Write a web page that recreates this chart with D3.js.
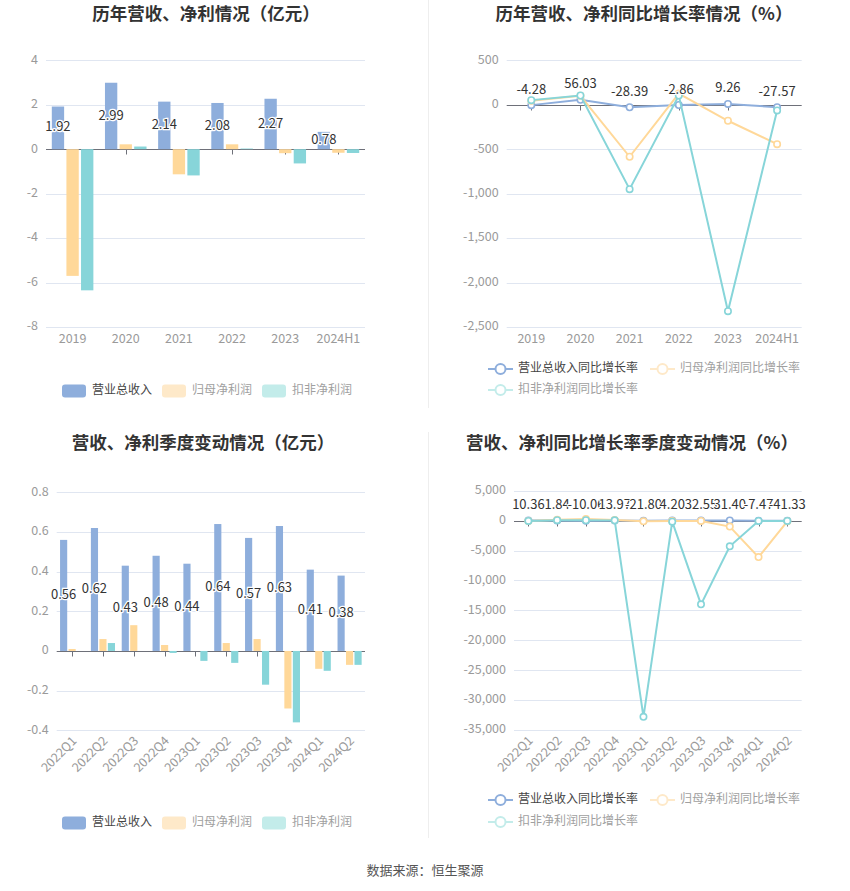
<!DOCTYPE html>
<html><head><meta charset="utf-8">
<script src="https://cdn.jsdelivr.net/npm/d3@7"></script>
<style>
body{margin:0;background:#fff}
svg{display:block;font-family:"Noto Sans CJK SC","Noto Sans",sans-serif}
</style>
</head><body>
<svg id="c" width="850" height="891"></svg>
<script>
// ---------- data ----------
const years = ["2019","2020","2021","2022","2023","2024H1"];
const annualRevenue = [1.92, 2.99, 2.14, 2.08, 2.27, 0.78];
const annualNetProfit = [-5.70, 0.22, -1.13, 0.22, -0.18, -0.16];
const annualDeducted = [-6.35, 0.12, -1.18, 0.03, -0.64, -0.17];

const annualRevenueGrowth = [-4.28, 56.03, -28.39, -2.86, 9.26, -27.57];
const annualNetProfitGrowth = [46, 100, -585, 126, -180, -443];
const annualDeductedGrowth = [52, 104, -950, 104, -2322, -64];

const quarters = ["2022Q1","2022Q2","2022Q3","2022Q4","2023Q1","2023Q2","2023Q3","2023Q4","2024Q1","2024Q2"];
const quarterRevenue = [0.56, 0.62, 0.43, 0.48, 0.44, 0.64, 0.57, 0.63, 0.41, 0.38];
const quarterNetProfit = [0.01, 0.06, 0.13, 0.03, 0.00, 0.04, 0.06, -0.29, -0.09, -0.07];
const quarterDeducted = [0.00, 0.04, 0.00, -0.01, -0.05, -0.06, -0.17, -0.36, -0.10, -0.07];

const quarterRevenueGrowth = [10.36, 1.84, -10.06, 13.97, -21.80, 4.20, 32.55, 31.40, -7.47, -41.33];
const quarterNetProfitGrowth = [-60, 150, 280, 90, -120, -50, -60, -1000, -6100, -120];
const quarterDeductedGrowth = [-60, 80, 60, 40, -32800, -170, -14000, -4300, -60, -50];

const annualYTicks = [-8, -6, -4, -2, 0, 2, 4];
const annualGrowthYTicks = [-2500, -2000, -1500, -1000, -500, 0, 500];
const quarterYTicks = [-0.4, -0.2, 0, 0.2, 0.4, 0.6, 0.8];
const quarterGrowthYTicks = [-35000, -30000, -25000, -20000, -15000, -10000, -5000, 0, 5000];

const barSeriesNames = ["营业总收入", "归母净利润", "扣非净利润"];
const lineSeriesNames = ["营业总收入同比增长率", "归母净利润同比增长率", "扣非净利润同比增长率"];
const titles = ["历年营收、净利情况（亿元）", "历年营收、净利同比增长率情况（%）",
                "营收、净利季度变动情况（亿元）", "营收、净利同比增长率季度变动情况（%）"];
const sourceText = "数据来源：恒生聚源";

// ---------- style ----------
const COLORS = ["#8eaedc", "#ffd899", "#87d5d9"];
const LEGEND_COLORS = ["#8eaedc", "#fee9c9", "#c3ecea"];
const svg = d3.select("#c");
const fmt = v => d3.format(",")(v).replace("\u2212", "-");

function frame(g, x, y, ticks, tickFmt, cats, rotate) {
  const [x0, x1] = x.range();
  g.selectAll(".grid").data(ticks).join("line")
    .attr("x1", x0).attr("x2", x1)
    .attr("y1", d => Math.round(y(d)) + 0.5).attr("y2", d => Math.round(y(d)) + 0.5)
    .attr("stroke", d => d === 0 ? "#6e7079" : "#e0e6f1").attr("stroke-width", 1);
  g.selectAll(".yl").data(ticks).join("text")
    .attr("x", x0 - 8).attr("y", d => y(d)).attr("text-anchor", "end")
    .attr("dominant-baseline", "middle").attr("font-size", 12.5).attr("fill", "#9a9a9a")
    .text(tickFmt);
  const y0 = Math.round(y(0)) + 0.5;
  g.selectAll(".tk").data(cats).join("line")
    .attr("x1", d => Math.round(x(d) + x.bandwidth() / 2) + 0.5)
    .attr("x2", d => Math.round(x(d) + x.bandwidth() / 2) + 0.5)
    .attr("y1", y0).attr("y2", y0 + 5).attr("stroke", "#6e7079");
  const bottom = y.range()[0];
  const xl = g.selectAll(".xl").data(cats).join("text")
    .attr("font-size", 12.5).attr("fill", "#9a9a9a").text(d => d);
  if (rotate) {
    xl.attr("text-anchor", "end").attr("dominant-baseline", "middle")
      .attr("transform", d => `translate(${x(d) + x.bandwidth() / 2 + 3},${bottom + 9}) rotate(-45)`);
  } else {
    xl.attr("text-anchor", "middle").attr("dominant-baseline", "middle")
      .attr("x", d => x(d) + x.bandwidth() / 2).attr("y", bottom + 13);
  }
}

function barChart(cfg) {
  const g = svg.append("g");
  const x = d3.scaleBand().domain(cfg.cats).range(cfg.xr);
  const y = d3.scaleLinear().domain(cfg.yd).range(cfg.yr);
  frame(g, x, y, cfg.ticks, fmt, cfg.cats, cfg.rotate);
  const bw = x.bandwidth() * 0.232, step = x.bandwidth() * 0.275;
  cfg.series.forEach((vals, si) => {
    g.append("g").selectAll("rect").data(vals.map((v, i) => ({v, c: cfg.cats[i]}))).join("rect")
      .attr("x", d => x(d.c) + x.bandwidth() / 2 + (si - 1) * step - bw / 2)
      .attr("width", bw)
      .attr("y", d => y(Math.max(0, d.v)))
      .attr("height", d => Math.abs(y(d.v) - y(0)))
      .attr("fill", COLORS[si]);
  });
  g.append("g").selectAll("text").data(cfg.series[0].map((v, i) => ({v, c: cfg.cats[i]}))).join("text")
    .attr("x", d => x(d.c) + x.bandwidth() / 2 - step)
    .attr("y", d => (y(d.v) + y(0)) / 2)
    .attr("text-anchor", "middle").attr("dominant-baseline", "middle")
    .attr("font-size", 13).attr("fill", "#333")
    .attr("stroke", "#fff").attr("stroke-width", 2.5).attr("paint-order", "stroke")
    .text(d => d.v.toFixed(2));
}

function lineChart(cfg) {
  const g = svg.append("g");
  const x = d3.scaleBand().domain(cfg.cats).range(cfg.xr);
  const y = d3.scaleLinear().domain(cfg.yd).range(cfg.yr);
  frame(g, x, y, cfg.ticks, fmt, cfg.cats, cfg.rotate);
  const cx = c => x(c) + x.bandwidth() / 2;
  cfg.series.forEach((vals, si) => {
    const pts = vals.map((v, i) => ({v, c: cfg.cats[i]}));
    g.append("path").datum(pts)
      .attr("d", d3.line().x(d => cx(d.c)).y(d => y(d.v)))
      .attr("fill", "none").attr("stroke", COLORS[si]).attr("stroke-width", 2);
    g.append("g").selectAll("circle").data(pts).join("circle")
      .attr("cx", d => cx(d.c)).attr("cy", d => y(d.v)).attr("r", 3.2)
      .attr("fill", "#fff").attr("stroke", COLORS[si]).attr("stroke-width", 1.6);
  });
  g.append("g").selectAll("text").data(cfg.series[0].map((v, i) => ({v, c: cfg.cats[i]}))).join("text")
    .attr("x", d => cx(d.c)).attr("y", d => y(d.v) - 15)
    .attr("text-anchor", "middle").attr("dominant-baseline", "middle")
    .attr("font-size", 13).attr("fill", "#333")
    .attr("stroke", "#fff").attr("stroke-width", 2).attr("paint-order", "stroke")
    .text(d => d.v.toFixed(2));
}

function barLegend(y) {
  const xs = [62, 162, 262];
  barSeriesNames.forEach((n, i) => {
    svg.append("rect").attr("x", xs[i]).attr("y", y - 6.5).attr("width", 24).attr("height", 13)
      .attr("rx", 3).attr("fill", LEGEND_COLORS[i]);
    svg.append("text").attr("x", xs[i] + 30).attr("y", y).attr("dominant-baseline", "middle")
      .attr("font-size", 12).attr("fill", i === 0 ? "#444" : "#a0a0a0").text(n);
  });
}
function lineLegend(y1, y2) {
  const pos = [[488, y1], [650, y1], [488, y2]];
  lineSeriesNames.forEach((n, i) => {
    const [lx, ly] = pos[i];
    svg.append("line").attr("x1", lx).attr("x2", lx + 25).attr("y1", ly).attr("y2", ly)
      .attr("stroke", LEGEND_COLORS[i]).attr("stroke-width", 2);
    svg.append("circle").attr("cx", lx + 12.5).attr("cy", ly).attr("r", 5)
      .attr("fill", "#fff").attr("stroke", LEGEND_COLORS[i]).attr("stroke-width", 2);
    svg.append("text").attr("x", lx + 30).attr("y", ly).attr("dominant-baseline", "middle")
      .attr("font-size", 12).attr("fill", i === 0 ? "#444" : "#a0a0a0").text(n);
  });
}

// dividers
svg.append("line").attr("x1", 428.5).attr("x2", 428.5).attr("y1", 0).attr("y2", 408).attr("stroke", "#eeeeee");
svg.append("line").attr("x1", 428.5).attr("x2", 428.5).attr("y1", 432).attr("y2", 838).attr("stroke", "#eeeeee");

// titles
[[206, 20], [644, 20], [203, 449], [632, 449]].forEach(([tx, ty], i) => {
  svg.append("text").attr("x", tx).attr("y", ty).attr("text-anchor", "middle")
    .attr("font-size", 17.5).attr("font-weight", "bold").attr("fill", "#333").text(titles[i]);
});

barChart({cats: years, series: [annualRevenue, annualNetProfit, annualDeducted],
  xr: [46, 365], yr: [327, 60.3], yd: [-8, 4], ticks: annualYTicks, rotate: false});
lineChart({cats: years, series: [annualRevenueGrowth, annualNetProfitGrowth, annualDeductedGrowth],
  xr: [506.7, 801.7], yr: [327, 60.3], yd: [-2500, 500], ticks: annualGrowthYTicks, rotate: false});
barChart({cats: quarters, series: [quarterRevenue, quarterNetProfit, quarterDeducted],
  xr: [56.7, 365], yr: [730.3, 492.3], yd: [-0.4, 0.8], ticks: quarterYTicks, rotate: true});
lineChart({cats: quarters, series: [quarterRevenueGrowth, quarterNetProfitGrowth, quarterDeductedGrowth],
  xr: [514, 801.7], yr: [730, 490.7], yd: [-35000, 5000], ticks: quarterGrowthYTicks, rotate: true});

barLegend(391);
lineLegend(369, 390);
barLegend(823);
lineLegend(800, 822);

svg.append("text").attr("x", 425).attr("y", 871).attr("text-anchor", "middle")
  .attr("dominant-baseline", "middle").attr("font-size", 13).attr("fill", "#555").text(sourceText);
</script>
</body></html>
